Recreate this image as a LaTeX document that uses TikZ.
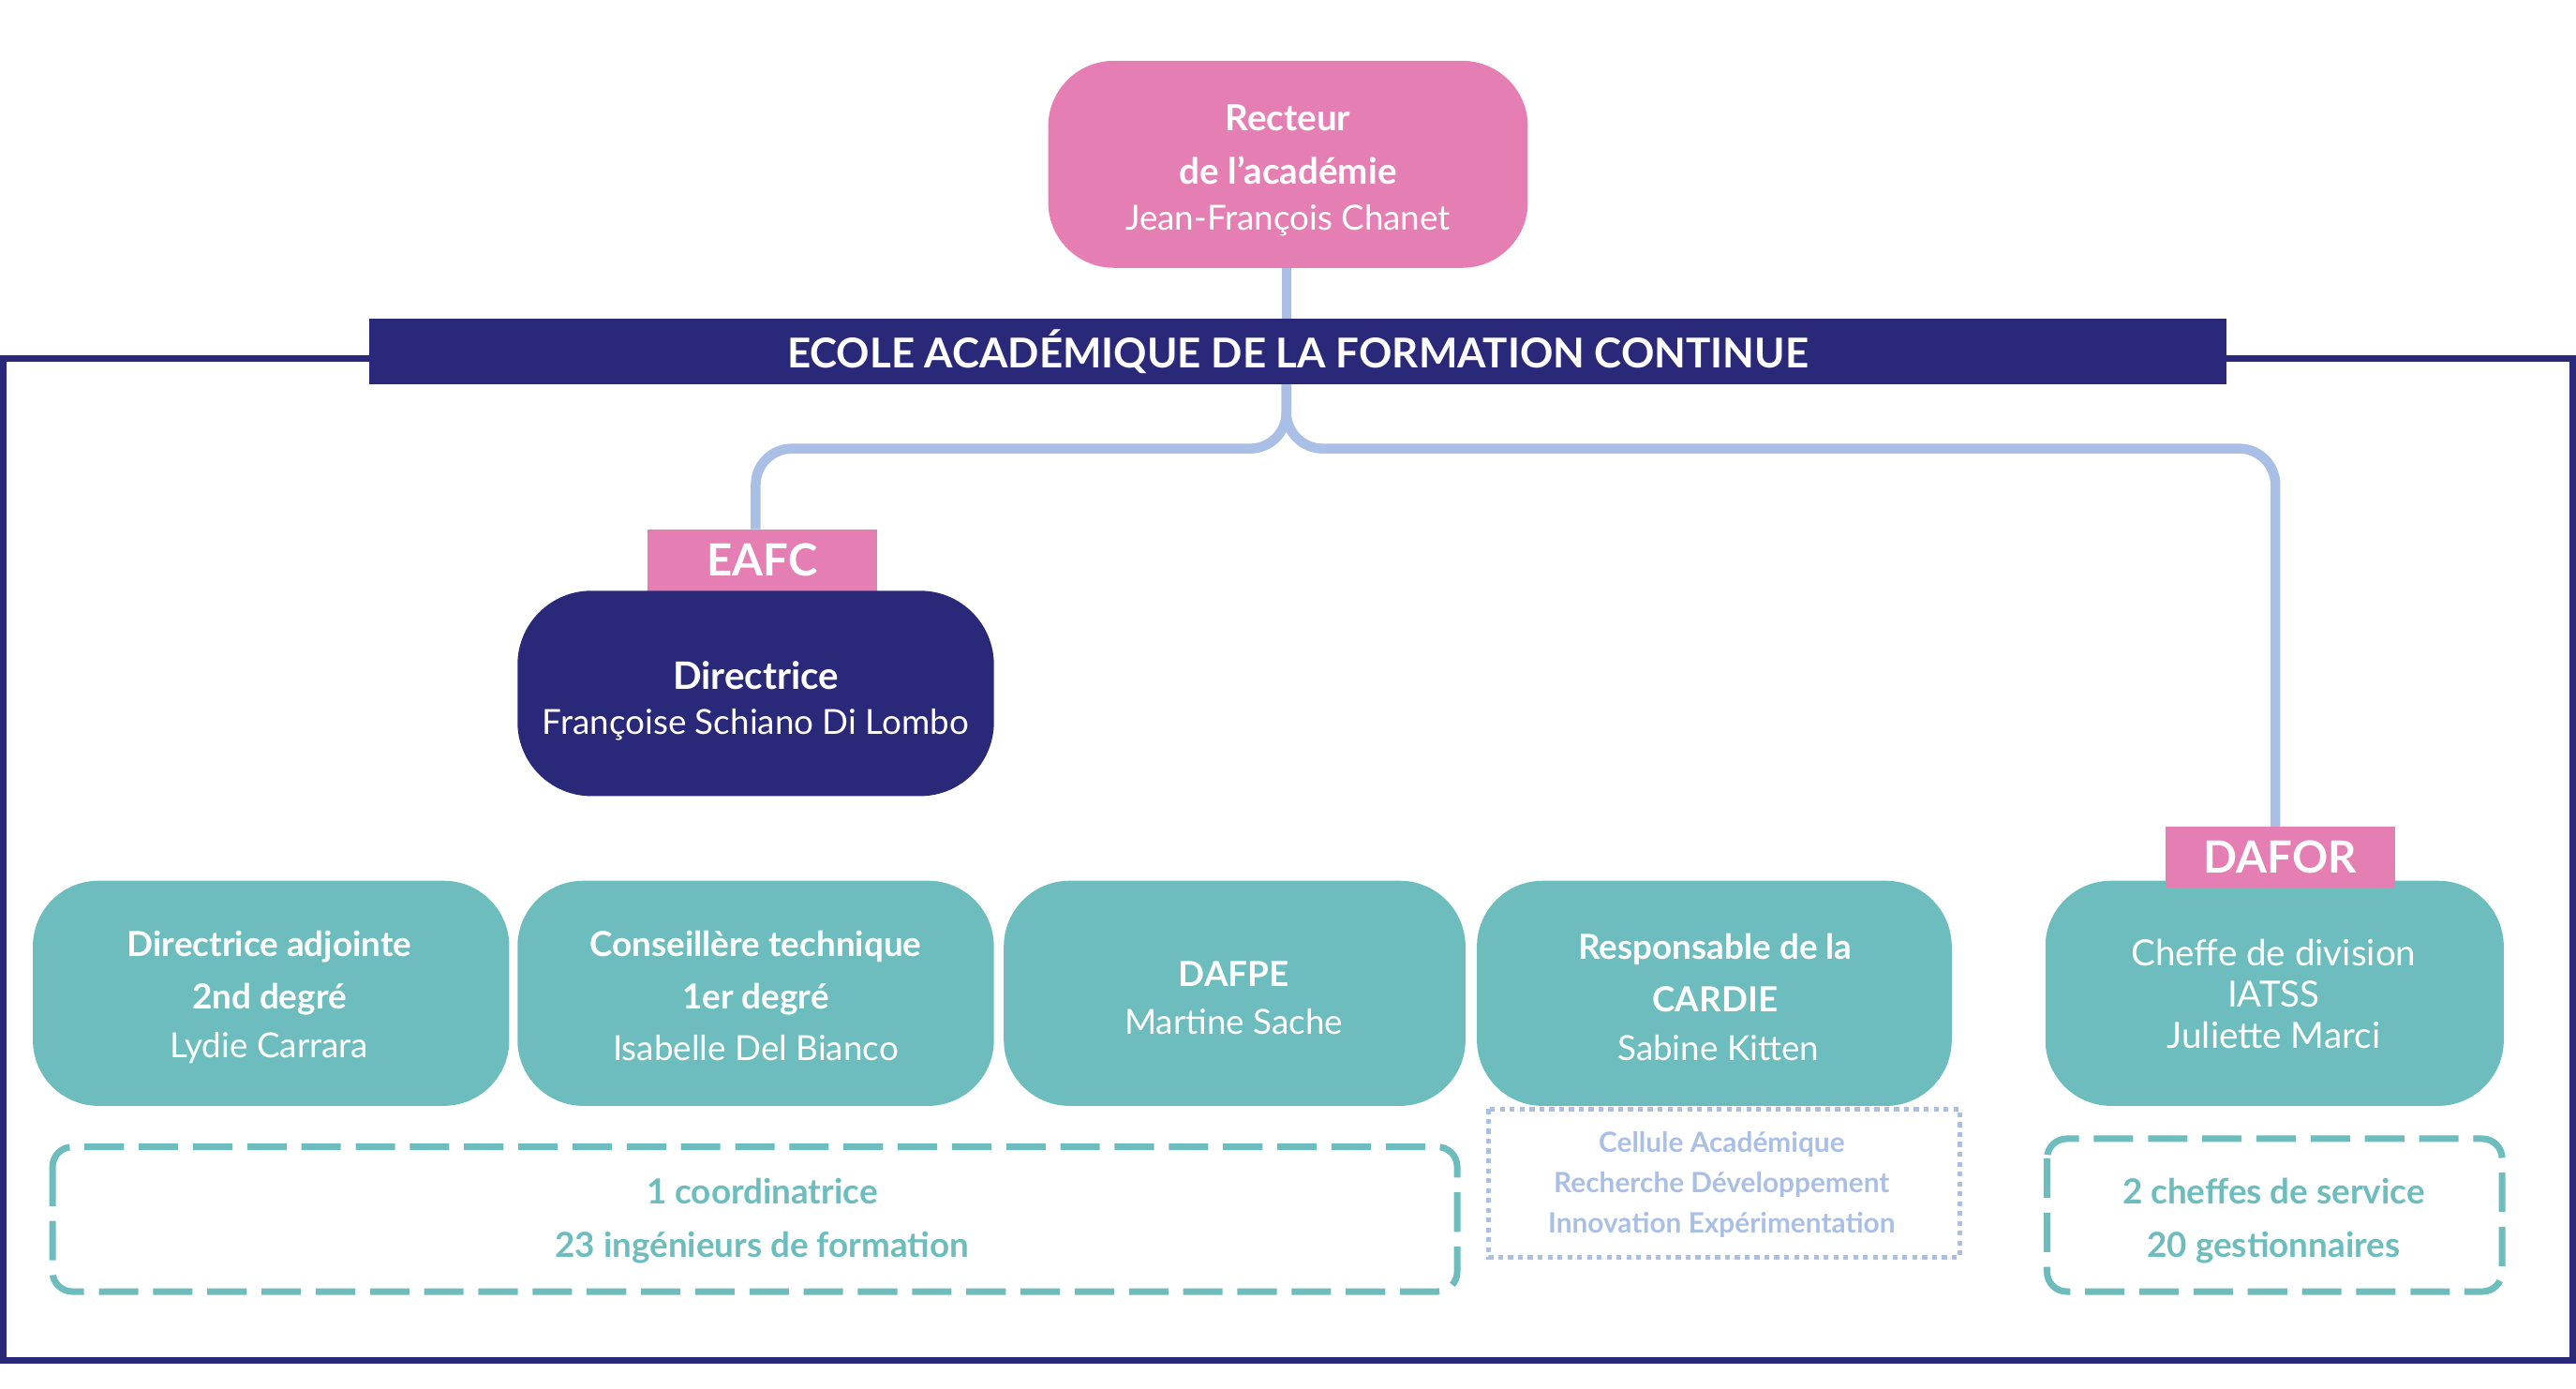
\documentclass[tikz,border=0pt]{standalone}
\usepackage{fontspec}
\setmainfont{Lato}
\definecolor{pinkc}{HTML}{E57FB3}
\definecolor{navy}{HTML}{2A2878}
\definecolor{teal}{HTML}{6DBDBE}
\definecolor{lblue}{HTML}{A9BFE6}
\begin{document}
\begin{tikzpicture}[x=1pt,y=-1pt,
  box/.style={rounded corners=40pt,text=white,align=center,inner sep=0pt},
  lab/.style={fill=pinkc,text=white,font=\fontsize{27}{30}\selectfont\bfseries,inner sep=0pt},
  conn/.style={lblue,line width=6pt,rounded corners=22pt},
  dbox/.style={teal,line width=4pt,rounded corners=12pt,dash pattern=on 24pt off 9pt},
  tt/.style={font=\fontsize{21}{26}\selectfont},
  tb/.style={font=\fontsize{21}{32}\selectfont\bfseries}]
\useasboundingbox (0,0) rectangle (1568,845);
\draw[navy,line width=4pt] (2,218) rectangle (1566,828);
% connectors
\coordinate (rb) at (783,163);
\coordinate (bt) at (783,194);
\draw[conn] (rb) -- (bt);
\draw[conn] (783,234) -- (783,273) -- (460,273) -- (460,322);
\draw[conn] (783,234) -- (783,273) -- (1385,273) -- (1385,503);
% recteur
\node[box,fill=pinkc,minimum width=292pt,minimum height=126pt] (rect) at (784,100) {};
\node[text=white,font=\fontsize{22}{33}\selectfont\bfseries,align=center] (r1) at (784,88) {Recteur\\de l’académie};
\node[text=white,tt] (r2) at (784,134) {Jean-François Chanet};
% banner
\node[fill=navy,text=white,minimum width=1130pt,minimum height=40pt,inner sep=0pt,font=\fontsize{25}{28}\selectfont\bfseries] (ban) at (790,214) {ECOLE ACADÉMIQUE DE LA FORMATION CONTINUE};
% EAFC
\node[lab,minimum width=140pt,minimum height=38pt] (eafc) at (464,341) {EAFC};
\node[box,fill=navy,rounded corners=45pt,minimum width=290pt,minimum height=125pt] (dir) at (460,422) {};
\node[text=white,font=\fontsize{23}{26}\selectfont\bfseries] (d1) at (460,411) {Directrice};
\node[text=white,tt] (d2) at (460,441) {Françoise Schiano Di Lombo};
% teal boxes
\foreach \n/\xa/\xb in {t1/20/310,t2/315/605,t3/611/892,t4/899/1188,t5/1245/1524}{
  \node[box,fill=teal,minimum width=\xb pt-\xa pt,minimum height=137pt] (\n) at ({(\xa+\xb)/2},604.5) {};}
\node[text=white,tb,align=center] (a1) at (164,592) {Directrice adjointe\\2nd degré};
\node[text=white,tt] (a2) at (164,638) {Lydie Carrara};
\node[text=white,tb,align=center] (b1) at (460,592) {Conseillère technique\\1er degré};
\node[text=white,tt] (b2) at (460,638) {Isabelle Del Bianco};
\node[text=white,tb] (c1) at (751,593) {DAFPE};
\node[text=white,tt] (c2) at (751,622) {Martine Sache};
\node[text=white,tb,align=center] (e1) at (1044,592) {Responsable de la\\CARDIE};
\node[text=white,tt] (e2) at (1046,638) {Sabine Kitten};
\node[text=white,font=\fontsize{22}{25}\selectfont,align=center] (f1) at (1384,605) {Cheffe de division\\IATSS\\Juliette Marci};
\node[lab,minimum width=140pt,minimum height=37pt] (dafor) at (1388,521.5) {DAFOR};
% lower boxes
\draw[dbox] (32,698) rectangle (887,786);
\node[text=teal,tb,align=center] (g1) at (464,743) {1 coordinatrice\\23 ingénieurs de formation};
\draw[lblue,line width=3pt,dash pattern=on 3pt off 3pt] (906,675) rectangle (1193,765);
\node[text=lblue,font=\fontsize{17}{24.5}\selectfont\bfseries,align=center] (h1) at (1048,721) {Cellule Académique\\Recherche Développement\\Innovation Expérimentation};
\draw[dbox] (1246,693) rectangle (1523,786);
\node[text=teal,tb,align=center] (i1) at (1384,743) {2 cheffes de service\\20 gestionnaires};
\end{tikzpicture}
\end{document}
